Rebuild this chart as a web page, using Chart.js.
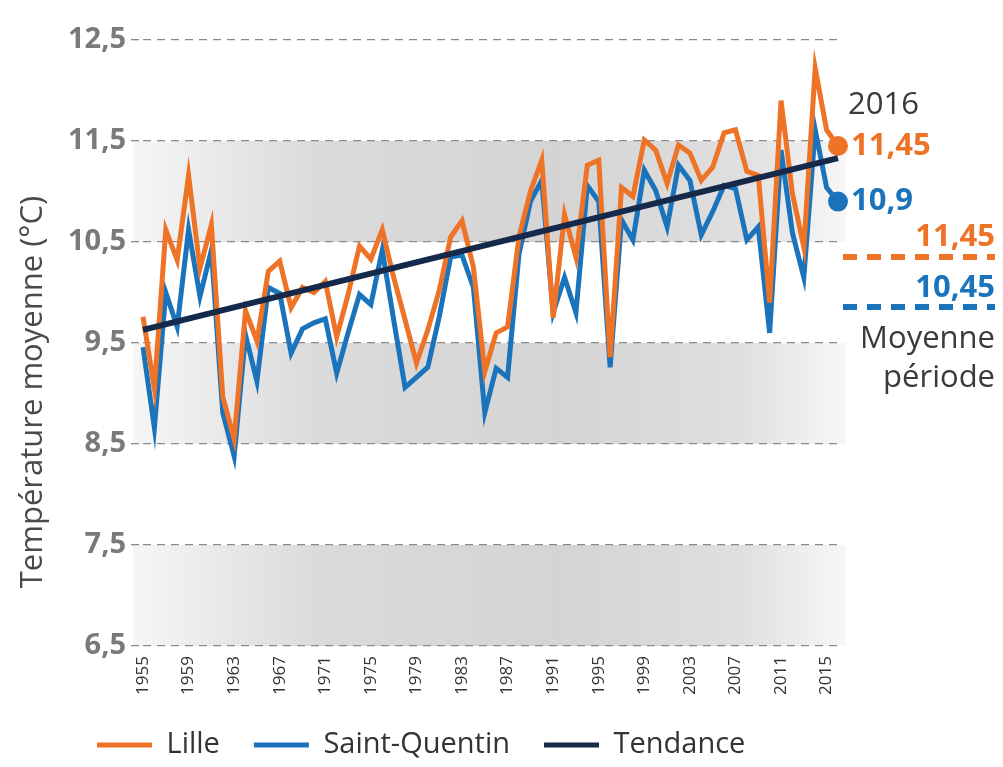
<!DOCTYPE html>
<html lang="fr">
<head>
<meta charset="utf-8">
<title>Température moyenne - Lille / Saint-Quentin</title>
<script src="https://cdn.jsdelivr.net/npm/chart.js@4.4.1/dist/chart.umd.min.js"></script>
<style>
	html, body { margin: 0; padding: 0; background: #fff; }
	#wrap { width: 1003px; height: 767px; }
</style>
</head>
<body>
<div id="wrap"><canvas id="myChart" width="1003" height="767"></canvas></div>
<script>
// années (axe x)
const years = [1955, 1956, 1957, 1958, 1959, 1960, 1961, 1962, 1963, 1964,
	1965, 1966, 1967, 1968, 1969, 1970, 1971, 1972, 1973, 1974,
	1975, 1976, 1977, 1978, 1979, 1980, 1981, 1982, 1983, 1984,
	1985, 1986, 1987, 1988, 1989, 1990, 1991, 1992, 1993, 1994,
	1995, 1996, 1997, 1998, 1999, 2000, 2001, 2002, 2003, 2004,
	2005, 2006, 2007, 2008, 2009, 2010, 2011, 2012, 2013, 2014,
	2015, 2016];
const tickYears = [1955, 1959, 1963, 1967, 1971, 1975, 1979, 1983, 1987,
	1991, 1995, 1999, 2003, 2007, 2011, 2015];

// températures moyennes annuelles (°C)
const lille = [9.76, 9.05, 10.62, 10.32, 11.16, 10.24, 10.67, 8.97, 8.55, 9.82,
	9.52, 10.21, 10.31, 9.85, 10.05, 10.0, 10.11, 9.56, 9.98, 10.46,
	10.33, 10.62, 10.15, 9.73, 9.3, 9.63, 10.02, 10.55, 10.71, 10.25,
	9.22, 9.6, 9.66, 10.55, 11.0, 11.31, 9.75, 10.77, 10.35, 11.26,
	11.31, 9.36, 11.04, 10.95, 11.51, 11.41, 11.08, 11.46, 11.38, 11.11,
	11.24, 11.58, 11.61, 11.2, 11.16, 9.9, 11.9, 10.98, 10.45, 12.22,
	11.61, 11.45];
const stQuentin = [9.46, 8.66, 10.0, 9.66, 10.62, 9.96, 10.42, 8.81, 8.38, 9.58,
	9.12, 10.05, 9.99, 9.4, 9.64, 9.7, 9.74, 9.2, 9.6, 9.98,
	9.88, 10.42, 9.73, 9.06, 9.16, 9.26, 9.76, 10.35, 10.37, 10.05,
	8.81, 9.25, 9.16, 10.38, 10.9, 11.11, 9.8, 10.15, 9.8, 11.06,
	10.9, 9.26, 10.72, 10.52, 11.21, 11.01, 10.65, 11.26, 11.11, 10.57,
	10.8, 11.06, 11.03, 10.52, 10.65, 9.6, 11.41, 10.59, 10.15, 11.61,
	11.04, 10.9];
const trendStart = 9.63;
const trendEnd = 11.33;

// moyennes sur la période (texte de droite)
const moyLille = 11.45;
const moyStQuentin = 10.45;

// bandes grises
const bands = [[10.5, 11.5], [8.5, 9.5], [6.5, 7.5]];
const yMin = 6.5, yMax = 12.5;

const orange = '#ee7326';
const blue = '#1b74bb';
const navy = '#15294a';
const lastIdx = years.length - 1;
const trend = years.map((y, i) => i === 0 ? trendStart : (i === lastIdx ? trendEnd : null));

const frNum = v => String(v).replace('.', ',');

Chart.defaults.font.family = "'Open Sans', sans-serif";

function endDot(ctx) {
	return ctx.dataIndex === lastIdx ? 10 : 0;
}

const bandsPlugin = {
	id: 'bands',
	beforeDraw(chart) {
		const {ctx, chartArea} = chart;
		const ys = chart.scales.y;
		const x0 = chartArea.left - 10, x1 = chartArea.right + 8;
		const g = ctx.createLinearGradient(x0, 0, x1, 0);
		g.addColorStop(0, '#f6f6f6');
		g.addColorStop(0.25, '#dbdbdb');
		g.addColorStop(0.6, '#d4d4d4');
		g.addColorStop(0.85, '#dfdfdf');
		g.addColorStop(1, '#f7f7f7');
		ctx.save();
		ctx.fillStyle = g;
		bands.forEach(b => {
			const top = ys.getPixelForValue(b[1]);
			const bot = ys.getPixelForValue(b[0]);
			ctx.fillRect(x0, top, x1 - x0, bot - top);
		});
		ctx.restore();
	}
};

const legendShift = {
	id: 'legendShift',
	afterLayout(chart) {
		const lg = chart.legend;
		if (!lg || !lg.lineWidths) return;
		const pad = lg.options.labels.padding;
		const startX = (lg.left + pad + lg.right - lg.lineWidths[0]) / 2;
		const dx = 97 - startX;
		lg.left += dx;
		lg.right += dx;
		const size = lg.options.labels.font.size;
		const dy = 745 - (lg.top + pad + size / 2);
		lg.top += dy;
		lg.bottom += dy;
	}
};

const sideText = {
	id: 'sideText',
	afterDraw(chart) {
		const {ctx, chartArea} = chart;
		const pL = chart.getDatasetMeta(0).data[lastIdx];
		const pS = chart.getDatasetMeta(1).data[lastIdx];
		ctx.save();
		ctx.textBaseline = 'middle';
		ctx.textAlign = 'left';

		ctx.font = "31px 'Open Sans'";
		ctx.fillStyle = '#3a3a3a';
		ctx.fillText(String(years[lastIdx]), pL.x + 10, pL.y - 41);

		ctx.font = "bold 31px 'Open Sans'";
		ctx.fillStyle = orange;
		ctx.fillText(frNum(lille[lastIdx]), pL.x + 13, pL.y);
		ctx.fillStyle = blue;
		ctx.fillText(frNum(stQuentin[lastIdx]), pS.x + 13, pS.y);

		// moyenne période
		const right = chart.width - 8;
		const left = chartArea.right + 5;
		const top = chartArea.top;
		ctx.textAlign = 'right';
		ctx.fillStyle = orange;
		ctx.fillText(frNum(moyLille), right, top + 197);
		ctx.fillStyle = blue;
		ctx.fillText(frNum(moyStQuentin), right, top + 248);

		ctx.lineWidth = 6;
		ctx.setLineDash([14, 10]);
		ctx.strokeStyle = orange;
		ctx.beginPath();
		ctx.moveTo(left, top + 217);
		ctx.lineTo(right, top + 217);
		ctx.stroke();
		ctx.strokeStyle = blue;
		ctx.beginPath();
		ctx.moveTo(left, top + 267);
		ctx.lineTo(right, top + 267);
		ctx.stroke();
		ctx.setLineDash([]);

		ctx.font = "31px 'Open Sans'";
		ctx.fillStyle = '#3a3a3a';
		ctx.fillText('Moyenne', right, top + 299);
		ctx.fillText('période', right, top + 338);

		// titre de l'axe y
		ctx.translate(33, chartArea.top + 352);
		ctx.rotate(-Math.PI / 2);
		ctx.textAlign = 'center';
		ctx.fillStyle = '#4a4a4a';
		ctx.fillText('Température moyenne (°C)', 0, 0);
		ctx.restore();
	}
};

const config = {
	type: 'line',
	data: {
		labels: years,
		datasets: [{
			label: 'Lille',
			data: lille,
			borderColor: orange,
			backgroundColor: orange,
			borderWidth: 5,
			pointRadius: endDot,
			pointHoverRadius: endDot,
			pointBorderWidth: 0,
			pointBackgroundColor: orange,
			tension: 0,
			clip: false,
			order: 1
		}, {
			label: 'Saint-Quentin',
			data: stQuentin,
			borderColor: blue,
			backgroundColor: blue,
			borderWidth: 5,
			pointRadius: endDot,
			pointHoverRadius: endDot,
			pointBorderWidth: 0,
			pointBackgroundColor: blue,
			tension: 0,
			clip: false,
			order: 2
		}, {
			label: 'Tendance',
			data: trend,
			borderColor: navy,
			backgroundColor: navy,
			borderWidth: 6,
			pointRadius: 0,
			spanGaps: true,
			order: 0
		}]
	},
	options: {
		responsive: false,
		animation: false,
		layout: {
			padding: {left: 10, right: 165, top: 40, bottom: 0}
		},
		plugins: {
			tooltip: {enabled: false},
			legend: {
				position: 'bottom',
				labels: {
					boxWidth: 55,
					boxHeight: 5,
					padding: 34,
					color: '#333',
					font: {size: 29},
					sort: (a, b) => a.datasetIndex - b.datasetIndex,
					generateLabels(chart) {
						return Chart.defaults.plugins.legend.labels.generateLabels(chart).map(l => {
							l.fillStyle = l.strokeStyle;
							l.lineWidth = 0;
							return l;
						});
					}
				}
			}
		},
		scales: {
			x: {
				grid: {display: false},
				border: {display: false},
				ticks: {
					autoSkip: false,
					minRotation: 90,
					maxRotation: 90,
					padding: 2,
					color: '#333',
					font: {size: 17},
					callback: function (value, index) {
						const yr = years[index];
						return tickYears.includes(yr) ? String(yr) : '';
					}
				},
				afterFit(scale) {
					scale.height = 48;
				}
			},
			y: {
				min: yMin,
				max: yMax,
				border: {display: false, dash: [8, 6]},
				grid: {
					color: '#8a8a8a',
					lineWidth: 1.3,
					tickLength: 12,
					tickColor: '#8a8a8a',
					tickBorderDash: [8, 6]
				},
				ticks: {
					stepSize: 1,
					padding: 5,
					color: '#7a7a7a',
					font: {size: 29, weight: 'bold'},
					callback: v => v.toFixed(1).replace('.', ',')
				},
				afterFit(scale) {
					scale.width = 133;
				}
			}
		}
	},
	plugins: [bandsPlugin, legendShift, sideText]
};

const myChart = new Chart(document.getElementById('myChart'), config);
</script>
</body>
</html>
